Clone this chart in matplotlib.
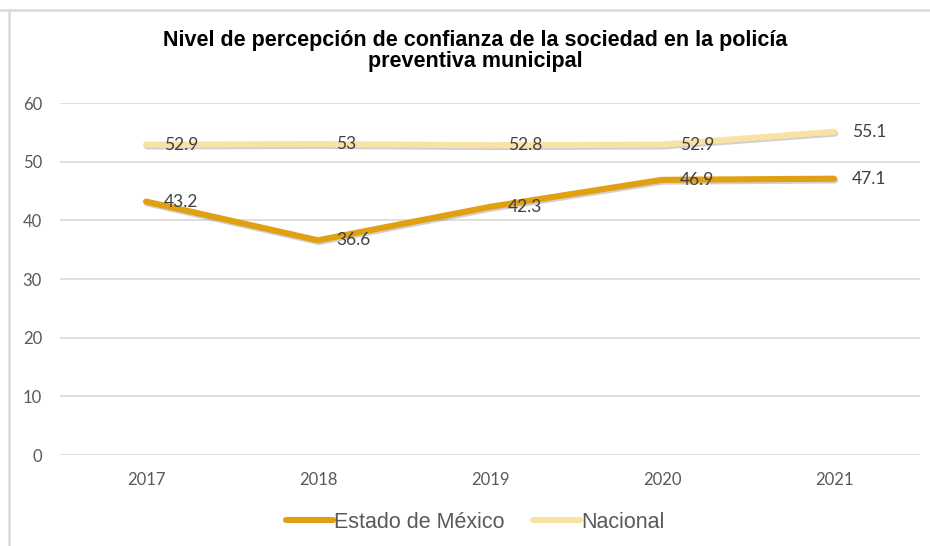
import matplotlib
matplotlib.use("Agg")
import matplotlib.pyplot as plt
import matplotlib.patheffects as pe
from matplotlib.lines import Line2D

years = ["2017", "2018", "2019", "2020", "2021"]
estado = [43.2, 36.6, 42.3, 46.9, 47.1]
nacional = [52.9, 53, 52.8, 52.9, 55.1]
estado_labels = ["43.2", "36.6", "42.3", "46.9", "47.1"]
nacional_labels = ["52.9", "53", "52.8", "52.9", "55.1"]
yticks = [0, 10, 20, 30, 40, 50, 60]

title = "Nivel de percepción de confianza de la sociedad en la policía\npreventiva municipal"

c_estado = "#E0A012"
c_nac = "#F9E2A4"
grid_c = "#D9D9D9"
tick_c = "#595959"
lab_c = "#404040"

fig = plt.figure(figsize=(9.3, 5.46), dpi=100)
ax = fig.add_axes([60/930, (546-455)/546, 860/930, 352/546])

x = list(range(len(years)))
shadow = [pe.SimpleLineShadow(offset=(0.8, -1.3), shadow_color="#7a7a7a", alpha=0.35), pe.Normal()]
ax.plot(x, nacional, color=c_nac, lw=4.4, solid_capstyle="round", solid_joinstyle="round",
        path_effects=shadow, zorder=3)
ax.plot(x, estado, color=c_estado, lw=4.4, solid_capstyle="round", solid_joinstyle="round",
        path_effects=shadow, zorder=3)

for xi, v, s in zip(x, nacional, nacional_labels):
    ax.annotate(s, (xi, v), xytext=(13, 0), textcoords="offset points", ha="left", va="center",
                fontsize=12.5, color=lab_c, family="Lato", zorder=4)
for xi, v, s in zip(x, estado, estado_labels):
    ax.annotate(s, (xi, v), xytext=(13, 0), textcoords="offset points", ha="left", va="center",
                fontsize=12.5, color=lab_c, family="Lato", zorder=4)

ax.set_xlim(-0.5, 4.5)
ax.set_ylim(0, 60)
ax.set_yticks(yticks)
ax.set_xticks(x)
ax.set_xticklabels(years)
ax.yaxis.grid(True, color=grid_c, lw=1.2)
ax.set_axisbelow(True)
for sp in ax.spines.values():
    sp.set_visible(False)
ax.tick_params(length=0, colors=tick_c, labelsize=12)
ax.tick_params(axis="y", pad=13)
ax.tick_params(axis="x", pad=12)
for t in ax.get_xticklabels() + ax.get_yticklabels():
    t.set_family("Lato")
    t.set_color(tick_c)

fig.text(475/930, 1 - 51/546, title, ha="center", va="center", fontsize=15.5,
         fontweight="bold", family="Liberation Sans", color="black", linespacing=1.0)

handles = [Line2D([], [], color=c_estado, lw=4.4, solid_capstyle="round"),
           Line2D([], [], color=c_nac, lw=4.4, solid_capstyle="round")]
leg = fig.legend(handles, ["Estado de México", "Nacional"], loc="center",
                 bbox_to_anchor=(475/930, 1 - 522/546), ncol=2, frameon=False,
                 prop={"family": "Liberation Sans", "size": 15.5}, handlelength=2.2,
                 handletextpad=0.05, columnspacing=1.3)
for t in leg.get_texts():
    t.set_color(tick_c)

# frame borders (top and left)
fig.add_artist(Line2D([0, 1], [1 - 10/546, 1 - 10/546], color=grid_c, lw=1.8, transform=fig.transFigure))
fig.add_artist(Line2D([8.5/930, 8.5/930], [0, 1 - 10/546], color=grid_c, lw=1.8, transform=fig.transFigure))

fig.savefig("out.png", dpi=100)
